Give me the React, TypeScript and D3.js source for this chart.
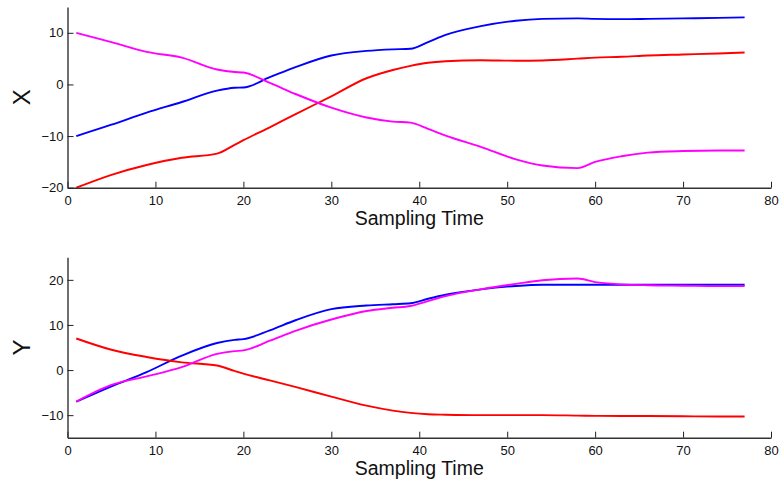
import React, { useRef, useEffect } from 'react';
import * as d3 from 'd3';

// sampling instants
const times = [1, 5, 9, 13, 17, 19, 20, 23, 26, 30, 34, 37, 39, 41, 43, 47, 51, 54, 58, 60, 63, 66, 70, 74, 77];

// X panel
const xRed = [-20, -17.5, -15.6, -14.2, -13.4, -11.7, -10.8, -8.3, -5.7, -2.3, 1.2, 2.8, 3.6, 4.2, 4.5, 4.7, 4.6, 4.65, 5.0, 5.2, 5.35, 5.6, 5.8, 6.0, 6.2];
const xBlue = [-10, -7.8, -5.45, -3.4, -1.2, -0.65, -0.6, 1.4, 3.4, 5.6, 6.5, 6.8, 6.9, 8.2, 9.6, 11.3, 12.35, 12.7, 12.8, 12.7, 12.65, 12.7, 12.8, 12.9, 13];
const xMagenta = [10, 8.2, 6.3, 5.2, 2.9, 2.4, 2.3, 0.3, -1.9, -4.5, -6.4, -7.2, -7.4, -8.6, -9.9, -12.1, -14.5, -15.7, -16.2, -15.0, -13.9, -13.2, -12.9, -12.8, -12.8];

// Y panel
const yRed = [7, 4.5, 2.9, 1.7, 1.0, -0.2, -0.8, -2.3, -3.8, -5.9, -7.9, -9.0, -9.5, -9.8, -9.9, -10, -10, -10, -10.1, -10.15, -10.2, -10.2, -10.25, -10.3, -10.3];
const yBlue = [-7, -3.6, -0.45, 3.2, 6.0, 6.7, 6.85, 8.8, 11.1, 13.5, 14.3, 14.6, 14.8, 15.8, 16.7, 17.9, 18.65, 18.9, 18.9, 18.9, 18.9, 18.9, 18.9, 18.9, 18.9];
const yMagenta = [-7, -3.3, -1.4, 0.65, 3.6, 4.2, 4.35, 6.5, 8.75, 11.2, 13.1, 13.8, 14.2, 15.3, 16.4, 17.9, 19.1, 19.9, 20.3, 19.5, 19.0, 18.8, 18.7, 18.6, 18.6];

const xTicks = [0, 10, 20, 30, 40, 50, 60, 70, 80];
const panels = [
  { label: 'X', domain: [-20, 15], ticks: [-20, -10, 0, 10], series: [xBlue, xRed, xMagenta], top: 7, bottom: 187.7 },
  { label: 'Y', domain: [-15, 25], ticks: [-10, 0, 10, 20], series: [yBlue, yRed, yMagenta], top: 257.3, bottom: 437.7 },
];
const colors = ['#0000ff', '#ff0000', '#ff00ff'];

const App = () => {
  const svgRef = useRef<SVGSVGElement>(null);

  useEffect(() => {
    document.body.style.margin = '0';
    const svg = d3.select(svgRef.current);
    svg.selectAll('*').remove();

    const font = 'Liberation Sans, Arial, sans-serif';
    const left = 67.5, right = 771;
    const x = d3.scaleLinear().domain([0, 80]).range([left, right]);

    panels.forEach(p => {
      const y = d3.scaleLinear().domain(p.domain).range([p.bottom, p.top]);
      const g = svg.append('g');

      // lines (monotone keeps the kinks but rounds the rest)
      const line = d3.line<number>()
        .x((_, i) => x(times[i]))
        .y(v => y(v))
        .curve(d3.curveMonotoneX);
      p.series.forEach((s, k) => {
        g.append('path')
          .datum(s)
          .attr('d', line)
          .attr('fill', 'none')
          .attr('stroke', colors[k])
          .attr('stroke-width', 1.9)
          .attr('stroke-linejoin', 'round');
      });

      // x axis (ticks point inward)
      const xa = g.append('g').attr('transform', `translate(0,${p.bottom})`)
        .call(d3.axisBottom(x).tickValues(xTicks).tickSize(-6).tickPadding(8.5).tickSizeOuter(0));
      // y axis
      const ya = g.append('g').attr('transform', `translate(${left},0)`)
        .call(d3.axisLeft(y).tickValues(p.ticks).tickSize(-6).tickPadding(4).tickSizeOuter(0)
          .tickFormat(d => (d as number) < 0 ? '\u2212' + Math.abs(d as number) : String(d)));

      [xa, ya].forEach(a => {
        a.select('.domain').attr('stroke', '#333').attr('stroke-width', 1.4);
        a.selectAll('.tick line').attr('stroke', '#222').attr('stroke-width', 1);
        a.selectAll('.tick text').attr('font-family', font).attr('font-size', 13).attr('fill', '#111');
      });

      // axis titles
      g.append('text')
        .attr('x', (left + right) / 2)
        .attr('y', p.bottom + 37.5)
        .attr('text-anchor', 'middle')
        .attr('font-family', font)
        .attr('font-size', 19.5)
        .attr('fill', '#111')
        .text('Sampling Time');

      g.append('text')
        .attr('transform', `translate(30,${(p.top + p.bottom) / 2}) rotate(-90)`)
        .attr('text-anchor', 'middle')
        .attr('font-family', font)
        .attr('font-size', 24)
        .attr('fill', '#111')
        .text(p.label);
    });
  }, []);

  return <svg ref={svgRef} width={784} height={486} style={{ display: 'block', background: '#fff' }}></svg>;
};

export default App;
